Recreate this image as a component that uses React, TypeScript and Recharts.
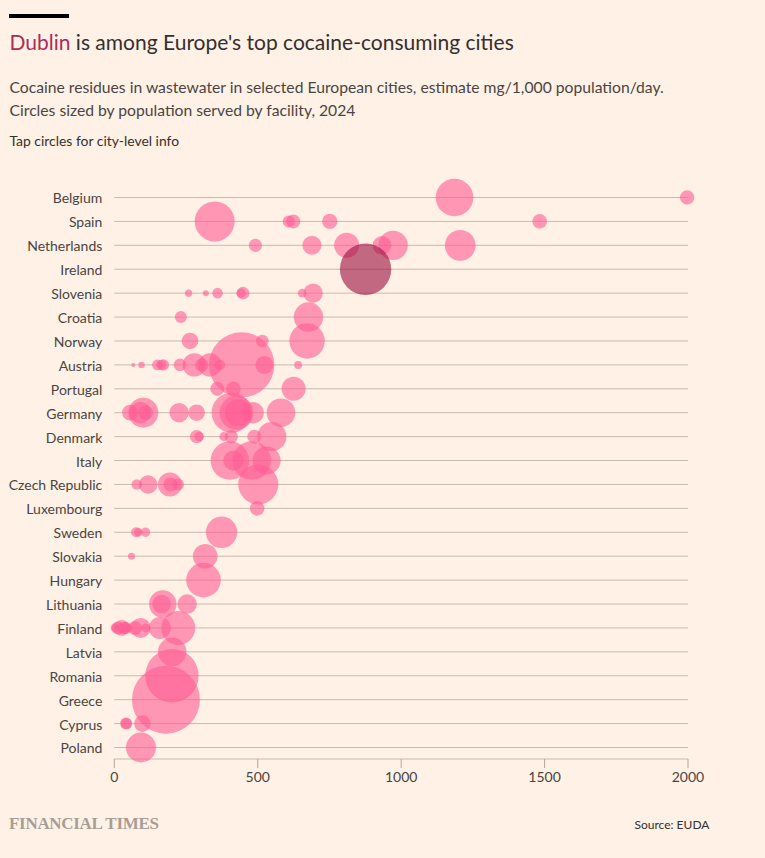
import { CartesianGrid, Scatter, ScatterChart, XAxis, YAxis, ZAxis } from "recharts";

const countries = [
  "Belgium", "Spain", "Netherlands", "Ireland", "Slovenia", "Croatia", "Norway", "Austria",
  "Portugal", "Germany", "Denmark", "Italy", "Czech Republic", "Luxembourg", "Sweden", "Slovakia",
  "Hungary", "Lithuania", "Finland", "Latvia", "Romania", "Greece", "Cyprus", "Poland",
];

// mg/1,000 population/day, one list per country
const residues = [
  [1186, 1997],
  [350, 608, 624, 751, 1483],
  [492, 689, 810, 933, 972, 1206],
  [876],
  [259, 319, 360, 442, 449, 655, 693],
  [232, 677],
  [264, 516, 672],
  [66, 95, 150, 164, 171, 229, 279, 305, 333, 368, 444, 523, 641],
  [359, 415, 625],
  [55, 90, 101, 110, 226, 287, 409, 426, 432, 484, 581],
  [287, 296, 382, 408, 488, 549],
  [403, 415, 479, 531],
  [78, 118, 194, 196, 222, 502],
  [498],
  [76, 84, 109, 374],
  [60, 317],
  [311],
  [165, 169, 254],
  [3, 13, 26, 33, 41, 48, 72, 92, 110, 159, 223],
  [202],
  [201],
  [180],
  [41, 42, 98],
  [93],
];

// population served, thousands (estimated from circle size)
const populations = [
  [1060, 156],
  [1200, 108, 147, 178, 160],
  [131, 271, 469, 259, 648, 711],
  [1981],
  [39, 27, 84, 66, 119, 55, 282],
  [108, 648],
  [207, 119, 940],
  [12, 31, 84, 75, 97, 119, 411, 135, 411, 84, 3208, 243, 48],
  [147, 160, 432],
  [192, 343, 675, 160, 282, 207, 1200, 867, 531, 343, 613],
  [135, 69, 61, 131, 147, 639],
  [1117, 300, 1117, 588],
  [81, 259, 432, 147, 108, 1200],
  [160],
  [75, 55, 66, 739],
  [37, 454],
  [898],
  [259, 563, 282],
  [61, 127, 192, 108, 108, 48, 147, 300, 61, 363, 867],
  [613],
  [2139],
  [3468],
  [108, 91, 207],
  [675],
];

const xTicks = [0, 500, 1000, 1500, 2000];
const HIGHLIGHT = "Ireland";

const points = countries.flatMap((country, row) =>
  residues[row].map((value, i) => ({ country, row, value, population: populations[row][i] })),
);

const FONT = "Lato, sans-serif";
const TEXT = "#4a4542";

function Text({ top, left, size, color = "#33302e", children, family = FONT, weight = 400, spacing = 0 }: any) {
  return (
    <div
      style={{
        position: "absolute",
        top,
        left,
        fontFamily: family,
        fontSize: size,
        fontWeight: weight,
        color,
        letterSpacing: spacing,
        lineHeight: 1,
        whiteSpace: "nowrap",
      }}
    >
      {children}
    </div>
  );
}

export default function App() {
  return (
    <div style={{ position: "absolute", left: 0, top: 0, width: 765, height: 858, background: "#fff1e5", overflow: "hidden" }}>
      <div style={{ position: "absolute", left: 9, top: 14, width: 60, height: 4, background: "#000" }} />
      <Text top={31} left={9.5} size={21}>
        <span style={{ color: "#b02a5b" }}>Dublin</span> is among Europe's top cocaine-consuming cities
      </Text>
      <Text top={80} left={9.5} size={15.7} color={TEXT}>Cocaine residues in wastewater in selected European cities, estimate mg/1,000 population/day.</Text>
      <Text top={103} left={9.5} size={15.7} color={TEXT}>Circles sized by population served by facility, 2024</Text>
      <Text top={134} left={9.5} size={13.9}>Tap circles for city-level info</Text>

      <ScatterChart
        width={765}
        height={858}
        margin={{ top: 197.5, right: 77, bottom: 59, left: 12.3 }}
        style={{ position: "absolute", left: 0, top: 0 }}
      >
        <CartesianGrid horizontal vertical={false} stroke="#c9baae" strokeWidth={1} />
        <XAxis
          type="number"
          dataKey="value"
          domain={[0, 2000]}
          ticks={xTicks}
          interval={0}
          height={40}
          axisLine={false}
          tickLine={{ stroke: "#b3a79d" }}
          tickSize={9}
          tickMargin={4}
          tick={{ fill: TEXT, fontSize: 14, fontFamily: FONT }}
        />
        <YAxis
          type="number"
          dataKey="row"
          domain={[0, countries.length - 1]}
          ticks={countries.map((_, i) => i)}
          reversed
          interval={0}
          width={102}
          padding={{ top: 0, bottom: 11.5 }}
          axisLine={false}
          tickLine={false}
          tickSize={0}
          tickMargin={12}
          tickFormatter={(i: number) => countries[i]}
          tick={{ fill: TEXT, fontSize: 14, fontFamily: FONT, dy: 1 }}
        />
        <ZAxis type="number" dataKey="population" domain={[0, 3600]} range={[0, 3770]} />
        <Scatter
          data={points.filter((p) => p.country !== HIGHLIGHT)}
          fill="#ff5b93"
          fillOpacity={0.6}
          isAnimationActive={false}
        />
        <Scatter
          data={points.filter((p) => p.country === HIGHLIGHT)}
          fill="#990f3d"
          fillOpacity={0.6}
          isAnimationActive={false}
        />
      </ScatterChart>

      <Text top={815} left={9} size={17} color="#a89d94" family="'Liberation Serif', serif" weight={700} spacing={-0.3}>
        FINANCIAL TIMES
      </Text>
      <Text top={819} left={634.5} size={12}>Source: EUDA</Text>
    </div>
  );
}
